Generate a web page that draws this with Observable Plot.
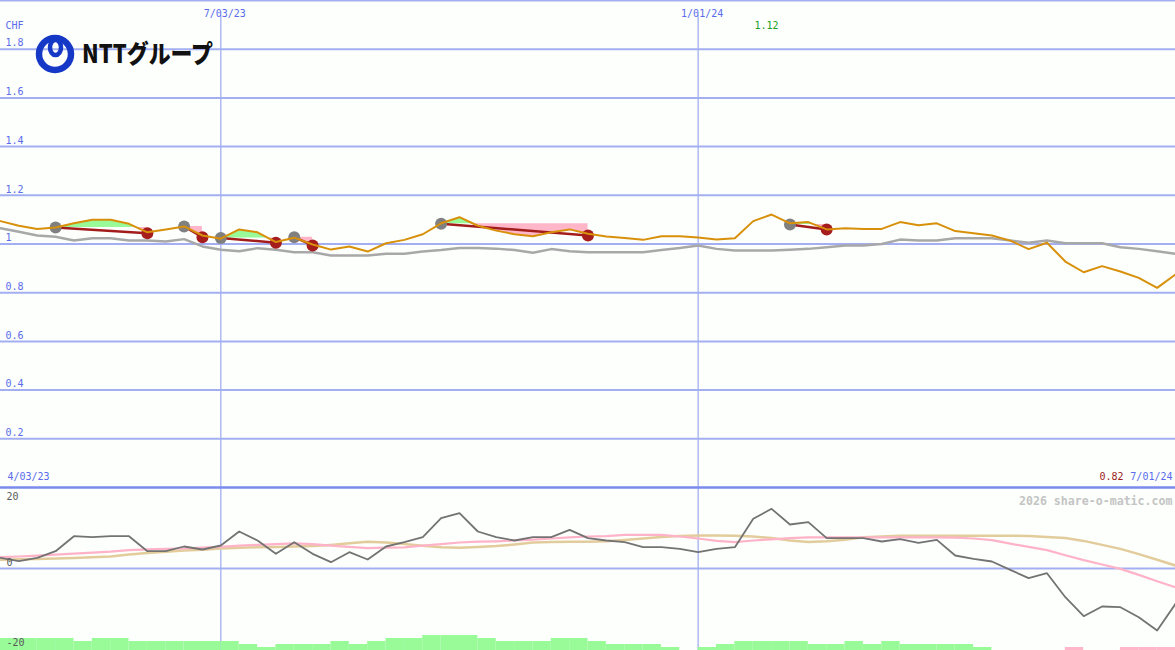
<!DOCTYPE html>
<html><head><meta charset="utf-8">
<script src="https://cdn.jsdelivr.net/npm/d3@7"></script>
<script src="https://cdn.jsdelivr.net/npm/@observablehq/plot@0.6"></script>
<style>
html,body{margin:0;padding:0;background:#fcfffc;}
#wrap{position:relative;width:1175px;height:650px;background:#fcfffc;overflow:hidden;}
#wrap svg{position:absolute;left:0;top:0;}
#logo{position:absolute;left:0;top:0;z-index:5;}
</style></head><body>
<div id="wrap">
<svg id="logo" width="240" height="90" viewBox="0 0 240 90">
  <circle cx="55" cy="54" r="16" fill="none" stroke="#1638c6" stroke-width="6.5"/>
  <ellipse cx="55.5" cy="47.5" rx="5.5" ry="7.5" fill="none" stroke="#1638c6" stroke-width="4.5"/>
  <text x="82" y="63" font-family="Noto Sans CJK JP" font-weight="900" font-size="25" fill="#111" textLength="131" lengthAdjust="spacingAndGlyphs">NTTグループ</text>
</svg>
</div>
<script>
// ---------- data ----------
const dates = ["2023-04-10","2023-04-17","2023-04-24","2023-05-01","2023-05-08","2023-05-15","2023-05-22","2023-05-29",
"2023-06-05","2023-06-12","2023-06-19","2023-06-26","2023-07-03","2023-07-10","2023-07-17","2023-07-24","2023-07-31",
"2023-08-07","2023-08-14","2023-08-21","2023-08-28","2023-09-04","2023-09-11","2023-09-18","2023-09-25",
"2023-10-02","2023-10-09","2023-10-16","2023-10-23","2023-10-30","2023-11-06","2023-11-13","2023-11-20","2023-11-27",
"2023-12-04","2023-12-11","2023-12-18","2023-12-25","2024-01-01","2024-01-08","2024-01-15","2024-01-22","2024-01-29",
"2024-02-05","2024-02-12","2024-02-19","2024-02-26","2024-03-04","2024-03-11","2024-03-18","2024-03-25",
"2024-04-01","2024-04-08","2024-04-15","2024-04-22","2024-04-29","2024-05-06","2024-05-13","2024-05-20","2024-05-27",
"2024-06-03","2024-06-10","2024-06-17","2024-06-24","2024-07-01"];

const price = [1.094,1.075,1.062,1.068,1.085,1.100,1.100,1.083,1.048,1.060,1.072,1.035,1.022,1.060,1.048,1.008,1.026,
0.998,0.977,0.990,0.969,1.003,1.017,1.040,1.085,1.110,1.075,1.055,1.040,1.032,1.048,1.060,1.042,1.031,1.025,1.017,
1.032,1.032,1.027,1.018,1.024,1.094,1.121,1.085,1.090,1.060,1.065,1.062,1.062,1.090,1.077,1.085,1.053,1.044,1.035,
1.014,0.979,1.005,0.928,0.884,0.909,0.887,0.861,0.820,0.875];

const avgLine = [1.065,1.050,1.035,1.030,1.014,1.024,1.024,1.014,1.014,1.010,1.020,0.990,0.976,0.970,0.983,0.976,0.966,
0.966,0.953,0.953,0.953,0.960,0.960,0.969,0.975,0.984,0.984,0.981,0.975,0.964,0.979,0.970,0.966,0.966,0.966,0.966,
0.975,0.984,0.994,0.980,0.973,0.973,0.973,0.976,0.980,0.987,0.994,0.994,1.000,1.018,1.014,1.014,1.024,1.024,1.024,
1.014,1.005,1.014,1.003,1.003,1.003,0.987,0.980,0.970,0.960];

const momentum = [2.67,1.83,2.67,4.33,8.08,7.83,8.08,8.08,4.33,4.33,5.5,4.75,5.75,9.25,7,3.67,6.58,3.67,1.58,4.08,2.25,
5.5,6.58,7.83,12.58,13.83,9.25,7.83,7,7.83,7.83,9.67,7.58,7,6.58,5.33,5.33,4.92,4.08,4.92,5.33,12.42,14.92,11,11.58,
7.58,7.58,7.58,6.75,7.33,6.42,7.17,3.25,2.42,1.75,-0.33,-2.42,-1.17,-7.17,-11.92,-9.5,-9.67,-12.17,-15.5,-8.83];

const momPink = [2.83,3.0,3.2,3.45,3.7,3.95,4.2,4.6,4.8,4.9,5.0,5.2,5.4,5.7,5.9,6.1,6.3,6.1,5.7,5.4,5.1,5.2,5.3,5.7,
6.1,6.5,6.7,6.8,7.0,7.2,7.5,7.8,8.0,8.1,8.4,8.4,8.4,8.0,7.5,6.9,6.6,7.0,7.3,7.6,7.8,7.8,7.8,7.8,7.8,7.8,7.8,7.8,7.7,
7.5,7.1,6.2,5.4,4.6,3.3,2.1,1.0,-0.1,-1.6,-3.2,-4.7];

const momTan = [2.2,2.3,2.4,2.5,2.6,2.8,3.0,3.5,3.9,4.2,4.5,4.7,5.0,5.2,5.3,5.4,5.5,5.6,5.9,6.3,6.7,6.5,6.1,5.7,5.3,
5.2,5.4,5.6,6.0,6.5,6.6,6.7,6.7,6.8,7.1,7.5,7.9,8.1,8.25,8.25,8.2,8.0,7.6,7.0,6.6,6.8,7.2,7.8,8.0,8.2,8.2,8.2,8.2,
8.2,8.2,8.2,8.1,7.9,7.6,6.9,5.9,4.9,3.6,2.2,0.75];

// weekly strength bars (one per week interval), levels
const barLevels = [4,4,4,4,3,4,4,3,3,3,3,3,3,2,1,2,2,2,3,2,3,4,4,5,5,5,4,3,3,3,4,4,3,2,2,2,1,0,1,2,3,3,3,3,2,2,3,2,
3,2,2,2,2,1,0,0,0,0,-1,0,0,-1,-1,-1];

// signals: start (grey dot) -> end (red dot)
const sigStart = ["2023-05-01","2023-06-19","2023-07-03","2023-07-31","2023-09-25","2024-02-05"];
const sigEnd   = ["2023-06-05","2023-06-26","2023-07-24","2023-08-07","2023-11-20","2024-02-19"];
const sigStartVal = [1.068,1.072,1.025,1.028,1.083,1.080];
const sigEndVal   = [1.044,1.028,1.005,0.994,1.035,1.060];

const tickDates = ["2023-07-03","2024-01-01"];
const tickLabels = ["7/03/23","1/01/24"];
const yTicks = [0.2,0.4,0.6,0.8,1,1.2,1.4,1.6,1.8];
const yTickLabels = ["0.2","0.4","0.6","0.8","1","1.2","1.4","1.6","1.8"];
const lowTicks = [20,0,-20];
const lowTickLabels = ["20","0","-20"];
const currency = "CHF";
const startLabel = "4/03/23";
const endLabel = "7/01/24";
const watermark = "2026 share-o-matic.com";

// ---------- build ----------
const parse = d3.utcParse("%Y-%m-%d");
const D = dates.map(parse);
const xDomain = [D[0], D[D.length - 1]];
const FONT = "DejaVu Sans Mono, monospace";
const GRID = "#a3aff2";
const LBL = "#5b6bec";

const rows = D.map((d, i) => ({date: d, price: price[i], avg: avgLine[i], mom: momentum[i], pink: momPink[i], tan: momTan[i]}));

const sigs = sigStart.map((s, k) => ({start: parse(s), end: parse(sigEnd[k]), sv: sigStartVal[k], ev: sigEndVal[k]}));

const fillRows = [];
sigStart.forEach((s, k) => {
  const a = dates.indexOf(s), e = dates.indexOf(sigEnd[k]);
  const L = sigStartVal[k];
  for (let i = a; i <= e; i++) {
    fillRows.push({sig: k, date: D[i], L, lo: Math.min(price[i], L), hi: Math.max(price[i], L)});
    if (i < e) {
      const p0 = price[i] - L, p1 = price[i + 1] - L;
      if (p0 * p1 < 0) {
        const t = p0 / (p0 - p1);
        fillRows.push({sig: k, date: new Date(+D[i] + t * (D[i + 1] - D[i])), L, lo: L, hi: L});
      }
    }
  }
});

let maxI = 0, minI = 0;
price.forEach((v, i) => { if (v > price[maxI]) maxI = i; if (v < price[minI]) minI = i; });

const LOW_BOTTOM = -20.5;
const bars = barLevels.slice(0, D.length - 1).map((lv, i) => ({x1: D[i], x2: D[i + 1], lv}));

const txt = {fontFamily: FONT, fontSize: 10};

const upper = Plot.plot({
  width: 1175, height: 650, marginTop: 0, marginBottom: 163, marginLeft: 0, marginRight: 0,
  x: {type: "utc", domain: xDomain, axis: null},
  y: {domain: [0, 2], axis: null},
  style: {background: "transparent", overflow: "visible"},
  marks: [
    Plot.ruleY(yTicks, {stroke: GRID, strokeWidth: 2}),
    Plot.ruleY([2], {stroke: GRID, strokeWidth: 2}),
    Plot.ruleX(tickDates.map(parse), {stroke: GRID, strokeWidth: 1.3, insetTop: 15}),
    Plot.areaY(fillRows, {x: "date", y1: "L", y2: "hi", z: "sig", fill: "#98fb98"}),
    Plot.areaY(fillRows, {x: "date", y1: "lo", y2: "L", z: "sig", fill: "#ffb6c8"}),
    Plot.lineY(rows, {x: "date", y: "avg", stroke: "#a8a8a8", strokeWidth: 2.5}),
    Plot.link(sigs, {x1: "start", y1: "sv", x2: "end", y2: "ev", stroke: "#a31c1c", strokeWidth: 2.5}),
    Plot.dot(sigs, {x: "start", y: "sv", r: 6, fill: "#808080"}),
    Plot.dot(sigs, {x: "end", y: "ev", r: 6, fill: "#a51d1d"}),
    Plot.lineY(rows, {x: "date", y: "price", stroke: "#d8900a", strokeWidth: 2}),
    Plot.text([currency], {...txt, text: d => d, frameAnchor: "top-left", dx: 5, dy: 21, fill: LBL}),
    Plot.text(yTicks, {...txt, y: d => d, text: (d, i) => yTickLabels[i], frameAnchor: "left", textAnchor: "start", dx: 5, dy: -6, fill: LBL}),
    Plot.text(tickDates.map(parse), {...txt, x: d => d, text: (d, i) => tickLabels[i], frameAnchor: "top", dx: 4, dy: 9, fill: LBL}),
    Plot.text([maxI], {...txt, x: i => D[i], text: i => price[i].toFixed(2), frameAnchor: "top", dx: -5, dy: 21, fill: "#1f9e1f"}),
    Plot.text([startLabel], {...txt, text: d => d, frameAnchor: "bottom-left", textAnchor: "start", dx: 7, dy: -8, fill: LBL}),
    Plot.text([endLabel], {...txt, text: d => d, frameAnchor: "bottom-right", textAnchor: "end", dx: -3, dy: -8, fill: LBL}),
    Plot.text([minI], {...txt, text: i => price[i].toFixed(2), frameAnchor: "bottom-right", textAnchor: "end", dx: -52, dy: -8, fill: "#9c1c1c"}),
    Plot.ruleY([0], {stroke: "#7b8bed", strokeWidth: 2.5})
  ]
});

const lower = Plot.plot({
  width: 1175, height: 650, marginTop: 487, marginBottom: 0, marginLeft: 0, marginRight: 0,
  x: {type: "utc", domain: xDomain, axis: null},
  y: {domain: [LOW_BOTTOM, 20.25], axis: null},
  style: {background: "transparent", overflow: "visible"},
  marks: [
    Plot.ruleY([0], {stroke: GRID, strokeWidth: 2}),
    Plot.ruleX(tickDates.map(parse), {stroke: GRID, strokeWidth: 1.3, insetTop: 1}),
    Plot.rect(bars.filter(b => b.lv > 0), {x1: "x1", x2: "x2", y1: LOW_BOTTOM, y2: b => LOW_BOTTOM + b.lv * 0.75, fill: "#98fb98"}),
    Plot.rect(bars.filter(b => b.lv < 0), {x1: "x1", x2: "x2", y1: LOW_BOTTOM, y2: b => LOW_BOTTOM - b.lv * 0.75, fill: "#ffb6c8"}),
    Plot.lineY(rows, {x: "date", y: "tan", stroke: "#e3cc9c", strokeWidth: 2.5}),
    Plot.lineY(rows, {x: "date", y: "pink", stroke: "#ffb3c8", strokeWidth: 2.2}),
    Plot.lineY(rows, {x: "date", y: "mom", stroke: "#737373", strokeWidth: 1.8}),
    Plot.text([lowTicks[0]], {...txt, y: d => d, text: () => lowTickLabels[0], frameAnchor: "left", textAnchor: "start", dx: 6, dy: 8, fill: "#5a5a5a"}),
    Plot.text(lowTicks.slice(1), {...txt, y: d => d, text: (d, i) => lowTickLabels[i + 1], frameAnchor: "left", textAnchor: "start", dx: 6, dy: -6, fill: "#5a5a5a"}),
    Plot.text([watermark], {fontFamily: FONT, fontSize: 11.6, fontWeight: "bold", text: d => d, frameAnchor: "top-right", textAnchor: "end", dx: -3, dy: 9, fill: "#c4c4c4"})
  ]
});

const wrap = document.getElementById("wrap");
wrap.insertBefore(lower, wrap.firstChild);
wrap.insertBefore(upper, lower.nextSibling);
</script>
</body></html>
